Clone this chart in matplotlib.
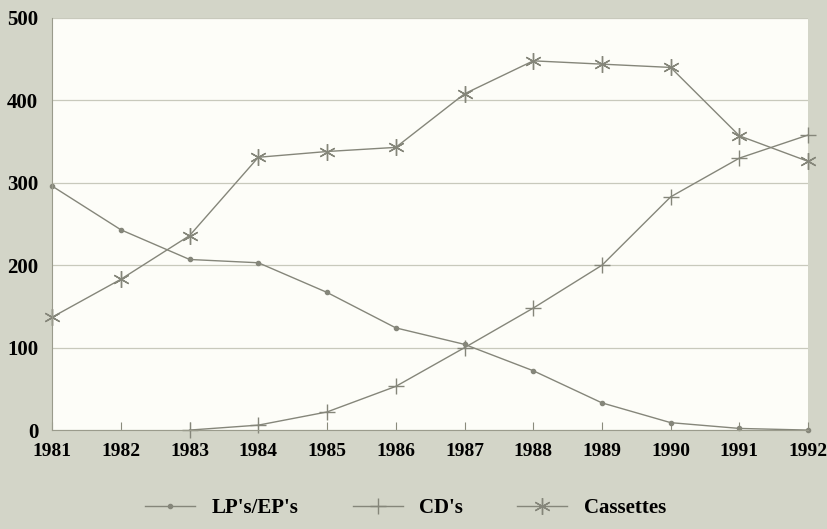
import matplotlib.pyplot as plt

years = list(range(1981, 1993))
lps = [296, 243, 207, 203, 167, 124, 104, 72, 33, 9, 2, 0]
cd_years = list(range(1983, 1993))
cds = [0, 6, 22, 53, 100, 148, 200, 283, 330, 358]
cassettes = [137, 183, 236, 331, 338, 343, 408, 448, 444, 440, 357, 326]

bg = '#d3d5c8'
line_col = '#85867a'
plt.rcParams['font.family'] = ['Liberation Serif', 'DejaVu Serif']

fig = plt.figure(figsize=(8.28, 5.29), dpi=100, facecolor=bg)
ax = fig.add_axes([0.063, 0.187, 0.913, 0.779])
ax.set_facecolor('#fdfdf8')

ax.plot(years, lps, color=line_col, lw=1.0, marker='o', ms=3,
        label="LP's/EP's", clip_on=False)
ax.plot(cd_years, cds, color=line_col, lw=1.0, marker='+', ms=11, mew=1.0,
        label="CD's", clip_on=False)
ax.plot(years, cassettes, color=line_col, lw=1.0, marker=(6, 2, 0), ms=12, mew=1.0,
        label='Cassettes', clip_on=False)

ax.set_xlim(1981, 1992)
ax.set_ylim(0, 500)
ax.set_xticks(years)
ax.set_yticks([0, 100, 200, 300, 400, 500])
ax.grid(axis='y', color='#c8c9bc', lw=0.9)
ax.set_axisbelow(True)
ax.tick_params(axis='x', direction='in', length=6, color='#8a8b7c', labelsize=14, pad=9)
ax.tick_params(axis='y', length=0, labelsize=15, pad=10)
for lab in ax.get_xticklabels() + ax.get_yticklabels():
    lab.set_fontweight('bold')
for side in ['top', 'right']:
    ax.spines[side].set_visible(False)
for side in ['left', 'bottom']:
    ax.spines[side].set_color('#9a9b8c')

leg = fig.legend(loc='lower center', bbox_to_anchor=(0.49, -0.015), ncol=3, frameon=False,
                 prop={'size': 15, 'weight': 'bold'}, handlelength=2.4, columnspacing=2.6)

fig.savefig('out.png', dpi=100, facecolor=bg)
